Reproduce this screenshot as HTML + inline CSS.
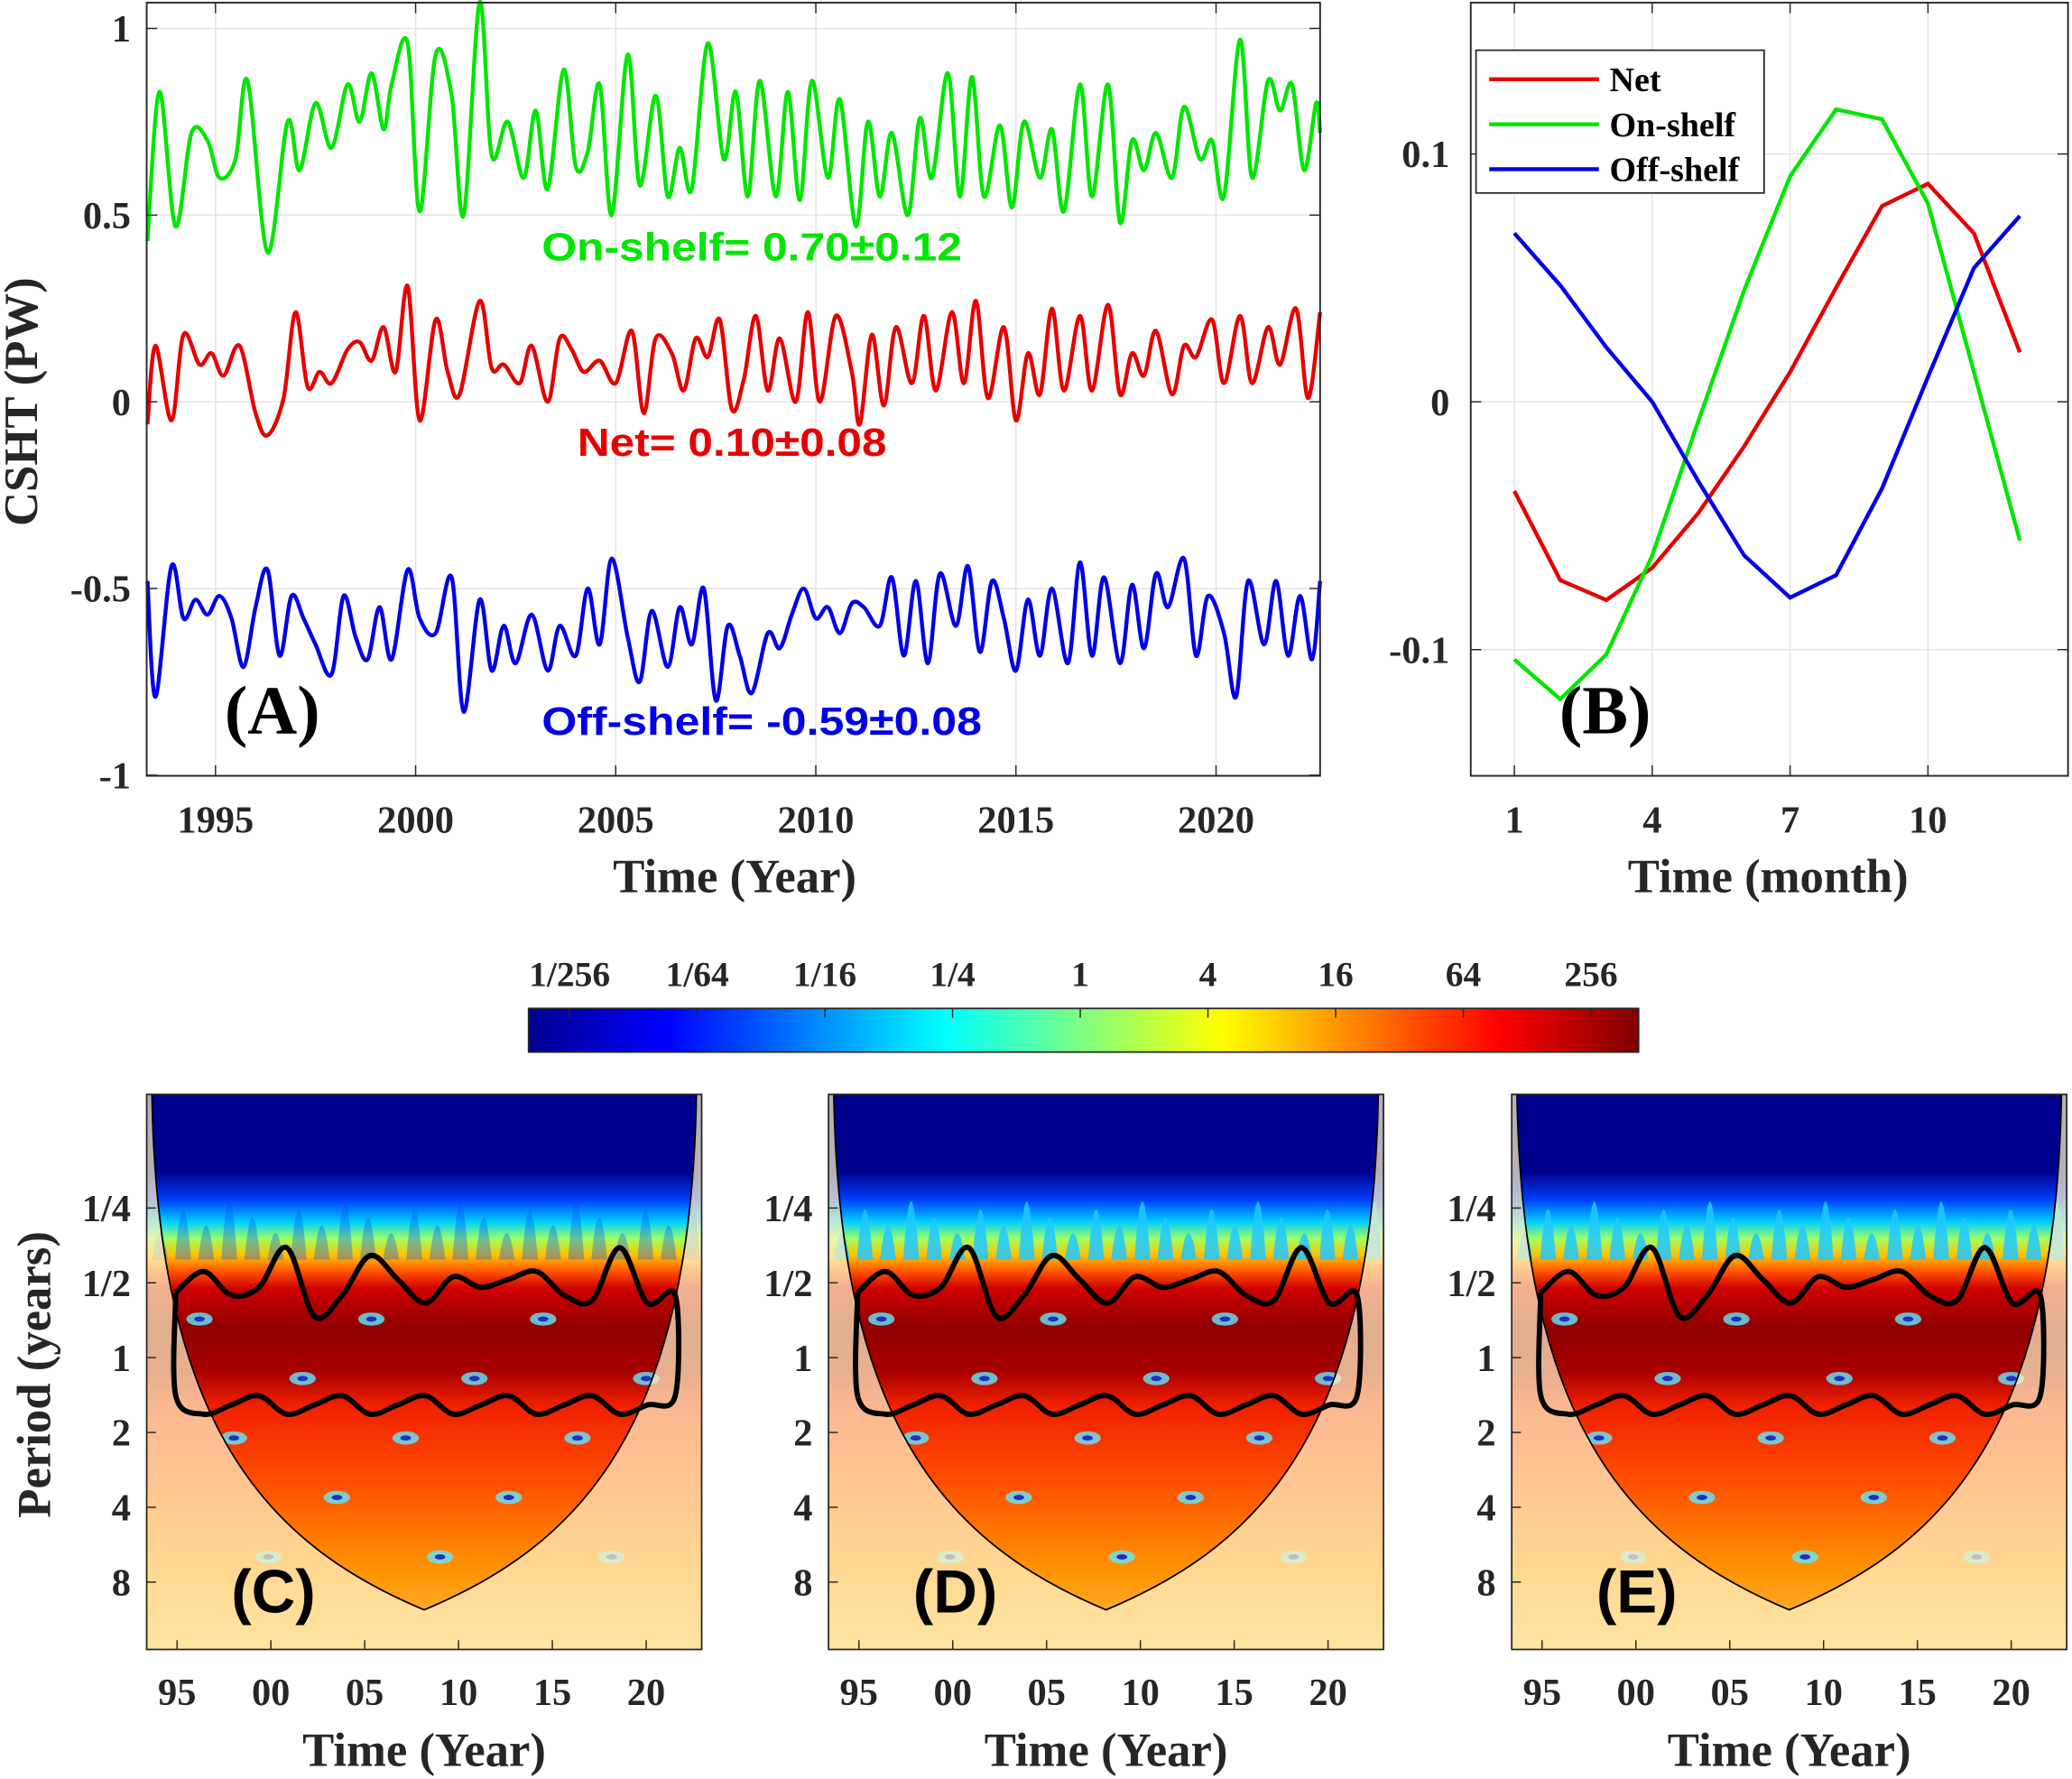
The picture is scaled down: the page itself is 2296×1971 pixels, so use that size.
<!DOCTYPE html>
<html><head><meta charset="utf-8">
<style>
html,body{margin:0;padding:0;background:#fff;}
svg{display:block;}
text{font-family:"Liberation Serif",serif;font-weight:bold;fill:#262626;}
.sans{font-family:"Liberation Sans",sans-serif;}
</style></head>
<body>
<svg id="fig" width="2296" height="1971" viewBox="0 0 1568 1346" preserveAspectRatio="none" xmlns="http://www.w3.org/2000/svg">
<defs>
<linearGradient id="jet" x1="0" x2="1" y1="0" y2="0">
<stop offset="0" stop-color="#00008f"/><stop offset="0.125" stop-color="#0000ff"/>
<stop offset="0.375" stop-color="#00ffff"/><stop offset="0.625" stop-color="#ffff00"/>
<stop offset="0.875" stop-color="#ff0000"/><stop offset="1" stop-color="#800000"/>
</linearGradient>
<linearGradient id="wv" x1="0" x2="0" y1="0" y2="1">
<stop offset="0" stop-color="#00008f"/><stop offset="0.14" stop-color="#00008f"/>
<stop offset="0.19" stop-color="#0040ff"/><stop offset="0.23" stop-color="#00d0ff"/>
<stop offset="0.26" stop-color="#a0ff60"/><stop offset="0.29" stop-color="#ffc000"/>
<stop offset="0.32" stop-color="#ff5000"/><stop offset="0.35" stop-color="#d00000"/>
<stop offset="0.42" stop-color="#900000"/><stop offset="0.50" stop-color="#a80000"/>
<stop offset="0.56" stop-color="#f02000"/><stop offset="0.70" stop-color="#ff5000"/>
<stop offset="0.85" stop-color="#ff9000"/><stop offset="1" stop-color="#ffc040"/>
</linearGradient>
</defs>
<g id="panelA"></g>
<g id="panelB"></g>
<g id="cbar"></g>
<g id="wave"></g>
</svg>
<script>
// ---------- Panel A data ----------
const gT=[1993.3,1993.6,1994.0,1994.4,1994.8,1995.1,1995.5,1995.8,1996.3,1996.8,1997.1,1997.5,1997.9,1998.3,1998.6,1998.9,1999.2,1999.4,1999.8,2000.1,2000.5,2000.9,2001.2,2001.6,2001.9,2002.3,2002.7,2003.0,2003.3,2003.7,2004.0,2004.3,2004.6,2004.9,2005.3,2005.6,2006.0,2006.3,2006.6,2006.9,2007.3,2007.7,2008.0,2008.3,2008.6,2009.0,2009.3,2009.6,2009.9,2010.3,2010.6,2011.0,2011.3,2011.6,2011.9,2012.3,2012.6,2012.9,2013.3,2013.6,2013.9,2014.2,2014.6,2014.9,2015.2,2015.6,2015.9,2016.2,2016.6,2016.9,2017.3,2017.6,2017.9,2018.2,2018.5,2018.9,2019.2,2019.6,2019.9,2020.2,2020.6,2020.9,2021.3,2021.6,2021.9,2022.2,2022.5,2022.6];
const gV=[0.43,0.83,0.47,0.72,0.70,0.60,0.65,0.86,0.40,0.75,0.62,0.80,0.68,0.85,0.75,0.88,0.73,0.85,0.96,0.51,0.93,0.82,0.50,1.07,0.66,0.75,0.60,0.78,0.57,0.89,0.63,0.67,0.85,0.50,0.93,0.58,0.82,0.55,0.68,0.57,0.96,0.65,0.83,0.55,0.86,0.55,0.83,0.54,0.86,0.60,0.81,0.47,0.75,0.55,0.72,0.50,0.76,0.60,0.88,0.55,0.87,0.55,0.74,0.52,0.75,0.60,0.73,0.51,0.85,0.55,0.85,0.48,0.70,0.62,0.72,0.60,0.79,0.65,0.70,0.55,0.97,0.60,0.86,0.78,0.85,0.62,0.80,0.72];
const rT=[1993.3,1993.5,1993.9,1994.2,1994.6,1994.9,1995.2,1995.6,1996.0,1996.3,1996.7,1997.0,1997.3,1997.6,1997.9,1998.3,1998.6,1998.9,1999.2,1999.5,1999.8,2000.1,2000.5,2000.8,2001.1,2001.6,2001.9,2002.2,2002.6,2002.9,2003.3,2003.6,2003.9,2004.2,2004.6,2005.0,2005.4,2005.7,2006.0,2006.4,2006.7,2007.0,2007.3,2007.6,2007.9,2008.2,2008.5,2008.8,2009.1,2009.5,2009.8,2010.1,2010.5,2010.9,2011.1,2011.4,2011.7,2012.0,2012.4,2012.7,2013.0,2013.4,2013.7,2014.0,2014.3,2014.7,2015.0,2015.3,2015.6,2015.9,2016.2,2016.6,2016.9,2017.3,2017.6,2017.9,2018.2,2018.5,2018.9,2019.2,2019.5,2019.9,2020.2,2020.6,2020.9,2021.3,2021.6,2022.0,2022.3,2022.6];
const rV=[-0.06,0.15,-0.05,0.18,0.10,0.13,0.07,0.15,-0.03,-0.09,0.01,0.24,0.04,0.08,0.05,0.14,0.16,0.11,0.20,0.08,0.31,-0.05,0.22,0.08,0.02,0.27,0.09,0.10,0.05,0.15,0.00,0.17,0.14,0.08,0.11,0.05,0.19,-0.03,0.17,0.13,0.03,0.17,0.12,0.22,-0.02,0.06,0.23,0.03,0.17,0.00,0.24,0.00,0.23,0.08,-0.06,0.18,-0.01,0.20,0.05,0.23,0.03,0.24,0.05,0.27,0.01,0.20,-0.05,0.13,0.02,0.25,0.03,0.23,0.03,0.26,0.02,0.13,0.07,0.19,0.02,0.15,0.12,0.22,0.05,0.23,0.05,0.20,0.10,0.25,0.01,0.24];
const bT=[1993.3,1993.5,1993.9,1994.2,1994.5,1994.8,1995.1,1995.4,1995.7,1996.0,1996.3,1996.6,1996.9,1997.2,1997.5,1997.9,1998.2,1998.5,1998.8,1999.1,1999.4,1999.8,2000.1,2000.5,2000.9,2001.2,2001.6,2001.9,2002.2,2002.5,2002.9,2003.3,2003.6,2004.0,2004.3,2004.6,2004.9,2005.3,2005.6,2005.9,2006.3,2006.6,2006.9,2007.2,2007.5,2007.8,2008.1,2008.4,2008.8,2009.1,2009.4,2009.7,2010.0,2010.3,2010.6,2010.9,2011.2,2011.6,2011.9,2012.2,2012.5,2012.8,2013.1,2013.5,2013.8,2014.1,2014.4,2014.7,2015.0,2015.3,2015.6,2015.9,2016.3,2016.6,2016.9,2017.2,2017.6,2017.9,2018.2,2018.5,2018.8,2019.2,2019.5,2019.8,2020.2,2020.5,2020.8,2021.2,2021.5,2021.8,2022.1,2022.4,2022.6];
const bV=[-0.48,-0.79,-0.44,-0.58,-0.53,-0.57,-0.52,-0.58,-0.71,-0.55,-0.45,-0.68,-0.52,-0.58,-0.65,-0.73,-0.52,-0.63,-0.69,-0.55,-0.69,-0.45,-0.58,-0.62,-0.47,-0.83,-0.53,-0.72,-0.60,-0.70,-0.57,-0.72,-0.60,-0.68,-0.50,-0.65,-0.42,-0.63,-0.75,-0.56,-0.71,-0.55,-0.65,-0.50,-0.80,-0.60,-0.68,-0.78,-0.62,-0.66,-0.57,-0.50,-0.58,-0.55,-0.62,-0.54,-0.55,-0.60,-0.47,-0.68,-0.48,-0.70,-0.46,-0.60,-0.44,-0.67,-0.48,-0.58,-0.72,-0.53,-0.68,-0.50,-0.70,-0.43,-0.68,-0.47,-0.70,-0.49,-0.66,-0.46,-0.55,-0.42,-0.68,-0.52,-0.62,-0.79,-0.48,-0.65,-0.48,-0.68,-0.52,-0.69,-0.48];
const aXTicks=[1995,2000,2005,2010,2015,2020];
const aYTicks=[1,0.5,0,-0.5,-1];
const aYLabels=["1","0.5","0","-0.5","-1"];
// ---------- Panel B data ----------
const months=[1,2,3,4,5,6,7,8,9,10,11,12];
const netV=[-0.036,-0.072,-0.080,-0.067,-0.045,-0.018,0.012,0.046,0.079,0.088,0.068,0.020];
const onV=[-0.104,-0.120,-0.102,-0.062,-0.008,0.045,0.091,0.118,0.114,0.080,0.012,-0.056];
const offV=[0.068,0.047,0.022,0.000,-0.032,-0.062,-0.079,-0.070,-0.035,0.010,0.054,0.075];
const bXTicks=[1,4,7,10];
const bYTicks=[0.1,0,-0.1];
const bYLabels=["0.1","0","-0.1"];
const cbLabels=["1/256","1/64","1/16","1/4","1","4","16","64","256"];
const wLabels=["1/4","1/2","1","2","4","8"];
const wXLabels=["95","00","05","10","15","20"];
const wXYears=[1995,2000,2005,2010,2015,2020];

const NS="http://www.w3.org/2000/svg";
function mk(parent,tag,attrs,txt){const e=document.createElementNS(NS,tag);for(const k in attrs)e.setAttribute(k,attrs[k]);if(txt!==undefined)e.textContent=txt;parent.appendChild(e);return e;}
function smooth(pts,close){let d="M"+pts[0][0].toFixed(1)+","+pts[0][1].toFixed(1);for(let i=0;i<pts.length-1;i++){const p0=pts[Math.max(0,i-1)],p1=pts[i],p2=pts[i+1],p3=pts[Math.min(pts.length-1,i+2)];const c1=[p1[0]+(p2[0]-p0[0])/6,p1[1]+(p2[1]-p0[1])/6],c2=[p2[0]-(p3[0]-p1[0])/6,p2[1]-(p3[1]-p1[1])/6];d+="C"+c1[0].toFixed(1)+","+c1[1].toFixed(1)+" "+c2[0].toFixed(1)+","+c2[1].toFixed(1)+" "+p2[0].toFixed(1)+","+p2[1].toFixed(1);}return d+(close?"Z":"");}

// ---------- Panel A ----------
(function(){
const g=document.getElementById('panelA');
const L=111,R=999,T=2,B=587;
const xs=t=>L+(t-1993.28)*(R-L)/(2022.6-1993.28);
const ys=v=>304-v*282.5;
mk(g,'rect',{x:L,y:T,width:R-L,height:B-T,fill:'#fff'});
aXTicks.forEach(t=>{mk(g,'line',{x1:xs(t),x2:xs(t),y1:T,y2:B,stroke:'#e3e3e3','stroke-width':1});});
aYTicks.forEach(v=>{mk(g,'line',{x1:L,x2:R,y1:ys(v),y2:ys(v),stroke:'#e3e3e3','stroke-width':1});});
const series=[[gT,gV,'#00e600','on-shelf-line'],[rT,rV,'#e60000','net-line'],[bT,bV,'#0000e6','off-shelf-line']];
series.forEach(s=>{const p=mk(g,'path',{d:smooth(s[0].map((t,i)=>[xs(t),ys(s[1][i])])),fill:'none',stroke:s[2],'stroke-width':3});

});
mk(g,'rect',{x:L,y:T,width:R-L,height:B-T,fill:'none',stroke:'#262626','stroke-width':1.3});
aXTicks.forEach(t=>{mk(g,'line',{x1:xs(t),x2:xs(t),y1:B,y2:B-8,stroke:'#262626'});mk(g,'line',{x1:xs(t),x2:xs(t),y1:T,y2:T+8,stroke:'#262626'});
const tx=mk(g,'text',{x:xs(t),y:630,'font-size':29,'text-anchor':'middle'},t);

});
aYTicks.forEach((v,i)=>{mk(g,'line',{x1:L,x2:L+8,y1:ys(v),y2:ys(v),stroke:'#262626'});mk(g,'line',{x1:R,x2:R-8,y1:ys(v),y2:ys(v),stroke:'#262626'});
const tx=mk(g,'text',{x:99,y:ys(v)+10,'font-size':29,'text-anchor':'end'},aYLabels[i]);

});
let t;
t=mk(g,'text',{x:556,y:675,'font-size':36,'text-anchor':'middle'},'Time (Year)');
t=mk(g,'text',{x:0,y:0,'font-size':36,'text-anchor':'middle',transform:'translate(28,304) rotate(-90)'},'CSHT (PW)');
t=mk(g,'text',{x:410,y:197,'font-size':30,class:'sans',style:'fill:#00e600',textLength:318,lengthAdjust:'spacingAndGlyphs'},'On-shelf= 0.70±0.12');
t=mk(g,'text',{x:437,y:345,'font-size':30,class:'sans',style:'fill:#e60000',textLength:234,lengthAdjust:'spacingAndGlyphs'},'Net= 0.10±0.08');
t=mk(g,'text',{x:410,y:556,'font-size':30,class:'sans',style:'fill:#0000e6',textLength:333,lengthAdjust:'spacingAndGlyphs'},'Off-shelf= -0.59±0.08');
t=mk(g,'text',{x:170,y:555,'font-size':52,style:'fill:#000'},'(A)');
})();

// ---------- Panel B ----------
(function(){
const g=document.getElementById('panelB');
const L=1113,R=1565,T=2,B=587;
const xs=m=>1146+(m-1)*(1459-1146)/9;
const ys=v=>304-v*1875;
mk(g,'rect',{x:L,y:T,width:R-L,height:B-T,fill:'#fff'});
bXTicks.forEach(m=>mk(g,'line',{x1:xs(m),x2:xs(m),y1:T,y2:B,stroke:'#e3e3e3'}));
bYTicks.forEach(v=>mk(g,'line',{x1:L,x2:R,y1:ys(v),y2:ys(v),stroke:'#e3e3e3'}));
[[netV,'#e60000','net-line'],[onV,'#00e600','on-shelf-line'],[offV,'#0000e6','off-shelf-line']].forEach(s=>{
const p=mk(g,'polyline',{points:months.map((m,i)=>xs(m)+','+ys(s[0][i])).join(' '),fill:'none',stroke:s[1],'stroke-width':3});

});
mk(g,'rect',{x:L,y:T,width:R-L,height:B-T,fill:'none',stroke:'#262626','stroke-width':1.3});
bXTicks.forEach(m=>{mk(g,'line',{x1:xs(m),x2:xs(m),y1:B,y2:B-8,stroke:'#262626'});mk(g,'line',{x1:xs(m),x2:xs(m),y1:T,y2:T+8,stroke:'#262626'});
const tx=mk(g,'text',{x:xs(m),y:630,'font-size':29,'text-anchor':'middle'},m);

});
bYTicks.forEach((v,i)=>{mk(g,'line',{x1:L,x2:L+8,y1:ys(v),y2:ys(v),stroke:'#262626'});mk(g,'line',{x1:R,x2:R-8,y1:ys(v),y2:ys(v),stroke:'#262626'});
const tx=mk(g,'text',{x:1097,y:ys(v)+10,'font-size':29,'text-anchor':'end'},bYLabels[i]);

});
let t=mk(g,'text',{x:1338,y:675,'font-size':36,'text-anchor':'middle'},'Time (month)');
t=mk(g,'text',{x:1180,y:555,'font-size':52,style:'fill:#000'},'(B)');
const lg=mk(g,'g',{});
mk(lg,'rect',{x:1117,y:38,width:218,height:108,fill:'#fff',stroke:'#262626','stroke-width':1.2});
[['Net','#e60000',60],['On-shelf','#00e600',94],['Off-shelf','#0000e6',128]].forEach(e=>{
const eg=mk(lg,'g',{});


mk(eg,'line',{x1:1127,x2:1210,y1:e[2],y2:e[2],stroke:e[1],'stroke-width':3});
mk(eg,'text',{x:1218,y:e[2]+9,'font-size':26,style:'fill:#000'},e[0]);});
})();

// ---------- Colorbar ----------
(function(){
const g=document.getElementById('cbar');
mk(g,'rect',{x:400,y:763,width:840,height:33,fill:'url(#jet)',stroke:'#262626','stroke-width':1.2});
cbLabels.forEach((s,i)=>{const x=431+i*(1204-431)/8;
mk(g,'line',{x1:x,x2:x,y1:763,y2:770,stroke:'#262626'});
const t=mk(g,'text',{x:x,y:746,'font-size':27,'text-anchor':'middle'},s);

});
})();

// ---------- Wavelet panels ----------
(function(){
const g=document.getElementById('wave');
const panels=[[111,'(C)'],[627,'(D)'],[1144,'(E)']];
const T=828,H=420,W=420;
const wy=i=>914+i*56.6;
panels.forEach((p,pi)=>{
const x0=p[0];
const pg=mk(g,'g',{});


const cid='clip'+pi;
const cp=mk(pg,'clipPath',{id:cid});mk(cp,'rect',{x:x0,y:T,width:W,height:H});
const inner=mk(pg,'g',{'clip-path':'url(#'+cid+')'});
mk(inner,'rect',{x:x0,y:T,width:W,height:H,fill:'url(#wv)'});
// spiky texture at top
for(let k=0;k<24;k++){const cx=x0+10+k*17.5;const h=40+((k*13)%5)*12;mk(inner,'path',{d:`M${cx-6},${T+125} Q${cx},${T+125-h} ${cx+6},${T+125} Z`,fill:pi==0?'#0050ff':'#20c8ff',opacity:pi==0?0.35:0.85});}
// blue dots below
for(let k=0;k<14;k++){const cx=x0+40+k*26;const cy=T+170+((k*37)%5)*45;mk(inner,'ellipse',{cx:cx,cy:cy,rx:10,ry:5,fill:'#60e8ff',opacity:0.8});mk(inner,'ellipse',{cx:cx,cy:cy,rx:4,ry:2,fill:'#2030c0'});}
// washout outside cone of influence
const cone=`C${x0+8},${T+250} ${x0+90},${T+340} ${x0+210},${T+390} C${x0+330},${T+340} ${x0+412},${T+250} ${x0+416},${T}`;
mk(inner,'path',{d:`M${x0},${T} L${x0+4},${T} ${cone} L${x0+W},${T} L${x0+W},${T+H} L${x0},${T+H} Z`,fill:'#fff3c8',opacity:0.72});
mk(inner,'path',{d:`M${x0+4},${T} ${cone}`,fill:'none',stroke:'#000','stroke-width':1.2});
// significance contour (inside cone)
const tp=[],bp=[];
for(let k=0;k<=18;k++){const x=x0+22+k*21;const yt=T+140+((k*7)%4)*6-(k%3==1?24:0)+(k%5==0?10:0);tp.push([x,yt]);}
for(let k=18;k>=0;k--){const x=x0+22+k*21;const yb=T+228+((k*5)%3)*7;bp.push([x,yb]);}
mk(inner,'path',{d:smooth(tp.concat(bp).concat([tp[0]])),fill:'none',stroke:'#000','stroke-width':4,'stroke-linejoin':'round'});
mk(pg,'rect',{x:x0,y:T,width:W,height:H,fill:'none',stroke:'#262626','stroke-width':1.2});
wLabels.forEach((s,i)=>{mk(pg,'line',{x1:x0,x2:x0+7,y1:wy(i),y2:wy(i),stroke:'#262626'});
const t=mk(pg,'text',{x:x0-12,y:wy(i)+10,'font-size':29,'text-anchor':'end'},s);

});
wXYears.forEach((yr,i)=>{const x=x0+23+(yr-1995)*14.2;
mk(pg,'line',{x1:x,x2:x,y1:T+H,y2:T+H-7,stroke:'#262626'});
const t=mk(pg,'text',{x:x,y:1290,'font-size':29,'text-anchor':'middle'},wXLabels[i]);

});
let t=mk(pg,'text',{x:x0+210,y:1336,'font-size':36,'text-anchor':'middle'},'Time (Year)');


t=mk(pg,'text',{x:x0+64,y:1220,'font-size':46,class:'sans',style:'fill:#000'},p[1]);


});
let t=mk(g,'text',{x:0,y:0,'font-size':36,'text-anchor':'middle',transform:'translate(38,1040) rotate(-90)'},'Period (years)');


})();
</script>
</body></html>
